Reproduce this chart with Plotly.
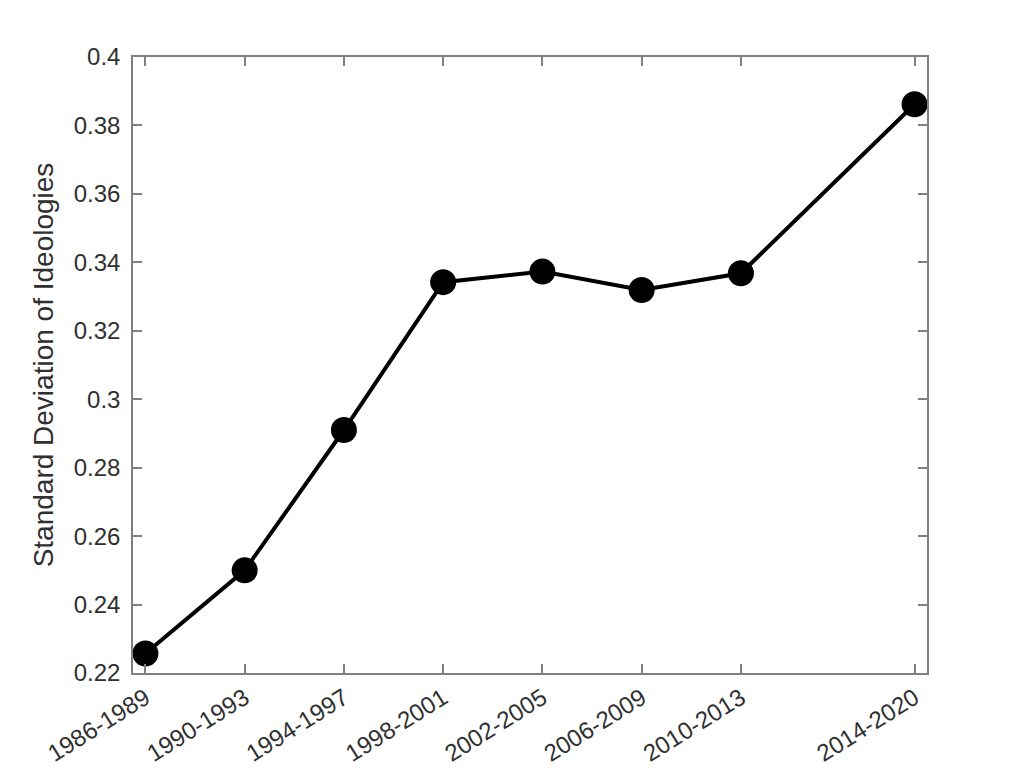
import plotly.graph_objects as go

periods = ["1986-1989", "1990-1993", "1994-1997", "1998-2001",
           "2002-2005", "2006-2009", "2010-2013", "2014-2020"]
end_years = [1989, 1993, 1997, 2001, 2005, 2009, 2013, 2020]
std_dev = [0.2257, 0.2500, 0.2910, 0.3342, 0.3373, 0.3319, 0.3368, 0.3862]
y_ticks = [0.22, 0.24, 0.26, 0.28, 0.30, 0.32, 0.34, 0.36, 0.38, 0.40]
y_tick_text = ["0.22", "0.24", "0.26", "0.28", "0.3", "0.32", "0.34", "0.36", "0.38", "0.4"]

fig = go.Figure()
fig.add_trace(go.Scatter(
    x=end_years, y=std_dev, mode="lines+markers",
    line=dict(color="black", width=4),
    marker=dict(color="black", size=26),
    showlegend=False,
))

font_family = "Liberation Sans, Arial, sans-serif"
axis_common = dict(
    showgrid=False, zeroline=False, showline=True, mirror="ticks",
    linecolor="#808080", linewidth=1.5, ticks="inside", ticklen=9,
    tickcolor="#808080", tickwidth=1.5, automargin=False,
    tickfont=dict(family=font_family, size=24, color="#303030"),
)

fig.update_layout(
    width=1024, height=768,
    paper_bgcolor="white", plot_bgcolor="white",
    margin=dict(l=125, r=105, t=49, b=103),
    xaxis=dict(range=[1988.5, 2020.5], tickmode="array", tickvals=end_years,
               ticktext=periods, tickangle=-32, **axis_common),
    yaxis=dict(range=[0.22, 0.40], tickmode="array", tickvals=y_ticks,
               ticktext=y_tick_text, ticklabelstandoff=6,
               title=dict(text="Standard Deviation of Ideologies", standoff=12,
                          font=dict(family=font_family, size=28, color="#303030")),
               **axis_common),
)

fig.write_html("out.html")
